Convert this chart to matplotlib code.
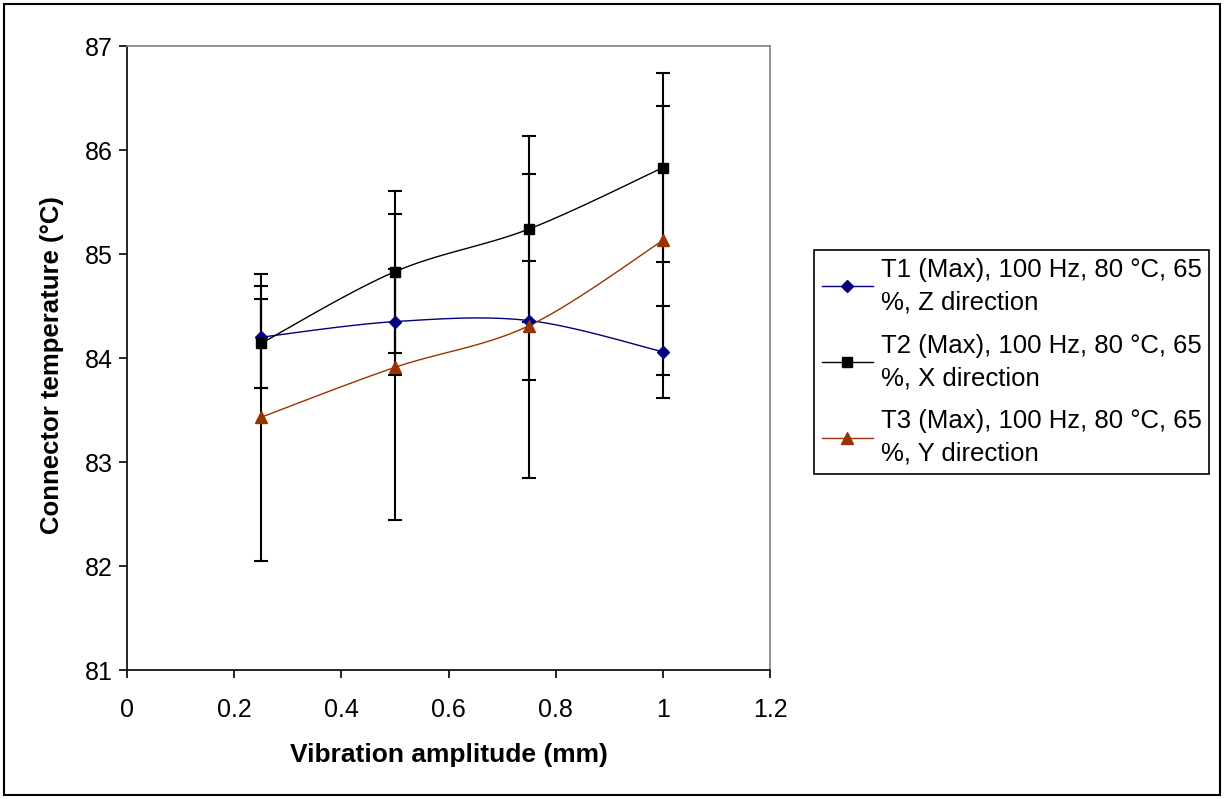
import numpy as np
import matplotlib
matplotlib.use("Agg")
import matplotlib.pyplot as plt
from matplotlib.patches import Rectangle

plt.rcParams['font.family'] = ['Liberation Sans', 'DejaVu Sans']

# Vibration amplitude (mm)
amplitude = [0.25, 0.5, 0.75, 1.0]

# Maximum connector temperatures (°C) and error-bar half widths
t1_z = [84.20, 84.35, 84.36, 84.06]
t1_err = [0.49, 0.51, 0.57, 0.44]
t2_x = [84.14, 84.83, 85.24, 85.83]
t2_err = [0.43, 0.78, 0.89, 0.91]
t3_y = [83.43, 83.91, 84.31, 85.13]
t3_err = [1.38, 1.47, 1.46, 1.29]

labels = [
    "T1 (Max), 100 Hz, 80 °C, 65\n%, Z direction",
    "T2 (Max), 100 Hz, 80 °C, 65\n%, X direction",
    "T3 (Max), 100 Hz, 80 °C, 65\n%, Y direction",
]

x_ticks = [0, 0.2, 0.4, 0.6, 0.8, 1, 1.2]
x_tick_labels = ["0", "0.2", "0.4", "0.6", "0.8", "1", "1.2"]
y_ticks = [81, 82, 83, 84, 85, 86, 87]


def smooth(xs, ys, n=40):
    """Cardinal (Catmull-Rom style) smoothing through every point."""
    p = np.column_stack([xs, ys]).astype(float)
    ext = np.vstack([p[0], p, p[-1]])
    out = [p[0]]
    t = np.linspace(0, 1, n)[1:]
    for i in range(len(p) - 1):
        p0, p1, p2, p3 = ext[i], ext[i + 1], ext[i + 2], ext[i + 3]
        c1 = p1 + (p2 - p0) / 6.0
        c2 = p2 - (p3 - p1) / 6.0
        seg = ((1 - t) ** 3)[:, None] * p1 + (3 * (1 - t) ** 2 * t)[:, None] * c1 \
            + (3 * (1 - t) * t ** 2)[:, None] * c2 + (t ** 3)[:, None] * p2
        out.extend(seg)
    out = np.array(out)
    return out[:, 0], out[:, 1]


fig = plt.figure(figsize=(12.24, 7.99), dpi=100)
ax = fig.add_axes([127 / 1224, 1 - 670 / 799, 643 / 1224, 624 / 799])

series = [
    (t1_z, t1_err, "#000080", "D", 6.5),
    (t2_x, t2_err, "#000000", "s", 7),
    (t3_y, t3_err, "#993300", "^", 8),
]

handles = []
for (vals, err, col, mk, ms), lab in zip(series, labels):
    ax.errorbar(amplitude, vals, yerr=err, fmt='none', ecolor='black',
                elinewidth=1.5, capsize=5, capthick=1.5, zorder=2)
for (vals, err, col, mk, ms), lab in zip(series, labels):
    sx, sy = smooth(amplitude, vals)
    ax.plot(sx, sy, color=col, lw=1.0, zorder=3)
    ax.plot(amplitude, vals, linestyle='none', marker=mk, ms=ms,
            color=col, zorder=4)
    h, = ax.plot([], [], color=col, lw=1.0, marker=mk, ms=ms)
    handles.append(h)

ax.set_xlim(0, 1.2)
ax.set_ylim(81, 87)
ax.set_xticks(x_ticks)
ax.set_xticklabels(x_tick_labels)
ax.set_yticks(y_ticks)

ax.spines['left'].set_color('black')
ax.spines['bottom'].set_color('black')
ax.spines['top'].set_color('#808080')
ax.spines['right'].set_color('#808080')
for s in ax.spines.values():
    s.set_linewidth(1.2)

ax.tick_params(axis='x', direction='out', length=6, width=1.2, pad=14,
               labelsize=18)
ax.tick_params(axis='y', direction='out', length=6, width=1.2, pad=4,
               labelsize=18)

ax.set_xlabel("Vibration amplitude (mm)", fontsize=19, fontweight='bold',
              va='center')
ax.xaxis.set_label_coords(0.5, -(755 - 670) / 624)
ax.set_ylabel("Connector temperature (°C)", fontsize=18.5, fontweight='bold',
              va='center', ha='center')
ax.yaxis.set_label_coords(-(127 - 52) / 643, (670 - 365) / 624)

leg = fig.legend(handles, labels, loc='upper left',
                 bbox_to_anchor=(814 / 1224, 1 - 250 / 799),
                 fontsize=18.5, frameon=True, fancybox=False, shadow=False,
                 edgecolor='black', framealpha=1, borderaxespad=0,
                 handlelength=2.0, handletextpad=0.3, labelspacing=0.75,
                 borderpad=0.3)
leg.get_frame().set_linewidth(1.2)
for txt in leg.get_texts():
    txt.set_linespacing(1.45)

fig.patches.append(Rectangle((4 / 1224, 4 / 799), 1 - 8 / 1224, 1 - 8 / 799,
                             transform=fig.transFigure, fill=False,
                             edgecolor='black', lw=1.5))

fig.savefig("out.png", dpi=100)
